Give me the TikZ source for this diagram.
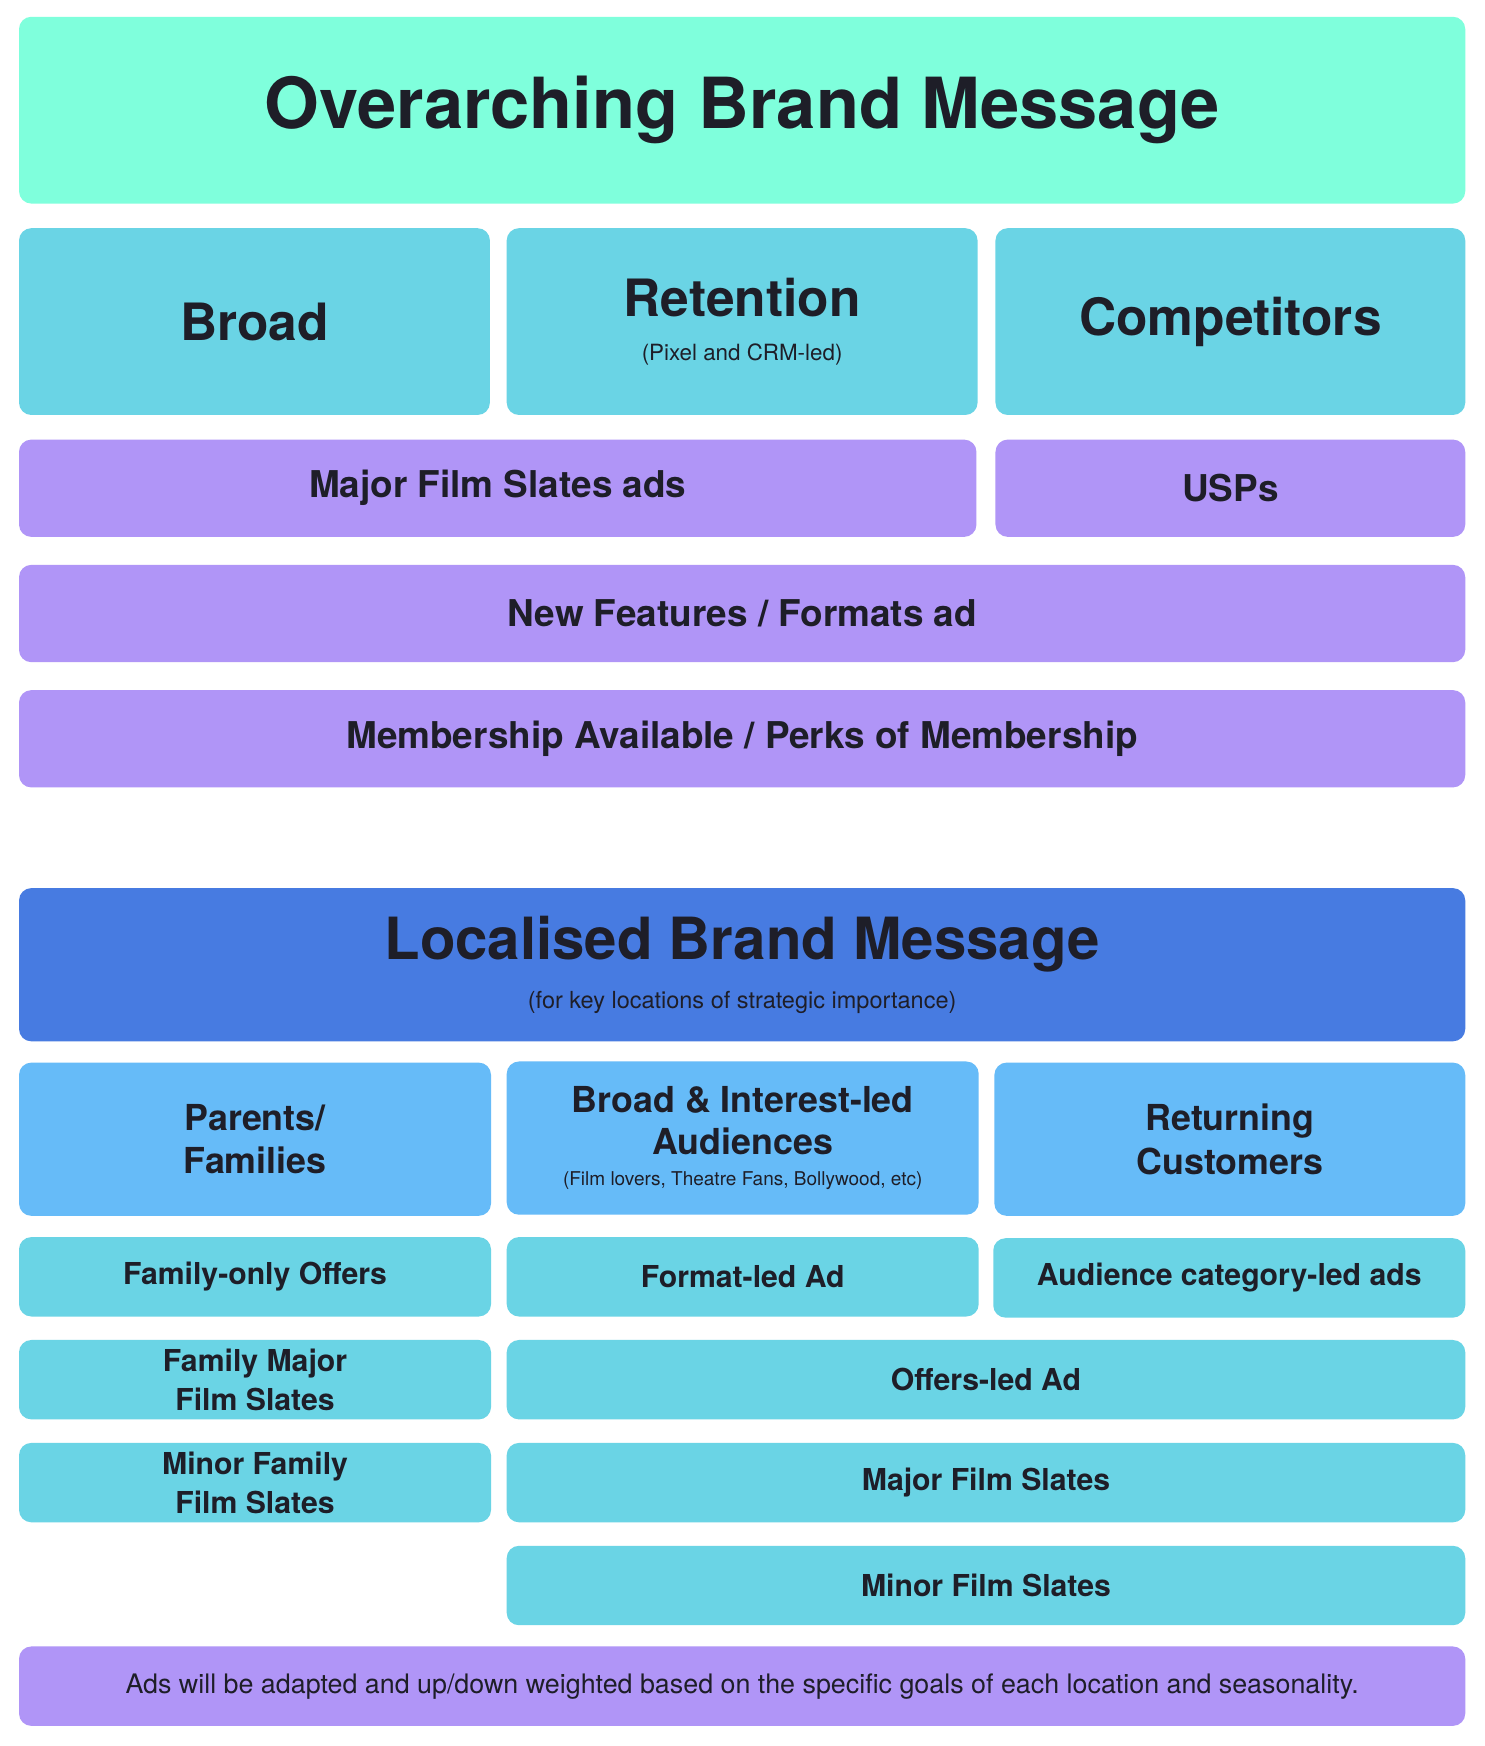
\documentclass[tikz,border=0pt]{standalone}
\usepackage{fontspec}
\setmainfont{TeX Gyre Heros}
\definecolor{cMint}{RGB}{127,255,220}
\definecolor{cTeal}{RGB}{106,212,229}
\definecolor{cPurp}{RGB}{176,149,247}
\definecolor{cBlue}{RGB}{71,123,225}
\definecolor{cSky}{RGB}{102,187,248}
\definecolor{cTxt}{RGB}{30,30,40}
\begin{document}
\begin{tikzpicture}[x=1pt,y=-1pt]
\useasboundingbox[fill=white] (0,0) rectangle (1327,1561);
\newcommand\bxx[7]{\fill[#5,rounded corners=11pt] (#1,#2) rectangle (#3,#4);
  \node[text=cTxt,align=center,inner sep=0pt,font={#6}] (n#1x#2) at ({(#1+#3)/2},{(#2+#4)/2}) {#7};}
\newcommand\subf[1]{\fontsize{#1}{#1}\mdseries\selectfont}
\bxx{17}{15}{1310}{182}{cMint}{\bfseries\fontsize{63}{70}\selectfont}{Overarching Brand Message}
\bxx{17}{204}{438}{371}{cTeal}{\bfseries\fontsize{46}{50}\selectfont}{Broad}
\bxx{453}{204}{874}{371}{cTeal}{\bfseries\fontsize{46}{40}\selectfont}{Retention\\{\subf{20}(Pixel and CRM-led)}}
\bxx{890}{204}{1310}{371}{cTeal}{\bfseries\fontsize{46}{50}\selectfont}{Competitors}
\bxx{17}{393}{873}{480}{cPurp}{\bfseries\fontsize{33}{38}\selectfont}{Major Film Slates ads}
\bxx{890}{393}{1310}{480}{cPurp}{\bfseries\fontsize{33}{38}\selectfont}{USPs}
\bxx{17}{505}{1310}{592}{cPurp}{\bfseries\fontsize{33}{38}\selectfont}{New Features / Formats ad}
\bxx{17}{617}{1310}{704}{cPurp}{\bfseries\fontsize{33}{38}\selectfont}{Membership Available / Perks of Membership}
\bxx{17}{794}{1310}{931}{cBlue}{\bfseries\fontsize{52}{44}\selectfont}{Localised Brand Message\\{\subf{21}(for key locations of strategic importance)}}
\bxx{17}{950}{439}{1087}{cSky}{\bfseries\fontsize{32}{39}\selectfont}{Parents/\\Families}
\bxx{453}{949}{875}{1086}{cSky}{\bfseries\fontsize{32}{38}\selectfont}{Broad \& Interest-led\\Audiences\\[-10pt]{\subf{17}(Film lovers, Theatre Fans, Bollywood, etc)}}
\bxx{889}{950}{1310}{1087}{cSky}{\bfseries\fontsize{32}{39}\selectfont}{Returning\\Customers}
\bxx{17}{1106}{439}{1177}{cTeal}{\bfseries\fontsize{27}{35}\selectfont}{Family-only Offers}
\bxx{453}{1106}{875}{1177}{cTeal}{\bfseries\fontsize{27}{35}\selectfont}{Format-led Ad}
\bxx{888}{1107}{1310}{1178}{cTeal}{\bfseries\fontsize{27}{35}\selectfont}{Audience category-led ads}
\bxx{17}{1198}{439}{1269}{cTeal}{\bfseries\fontsize{27}{35}\selectfont}{Family Major\\Film Slates}
\bxx{453}{1198}{1310}{1269}{cTeal}{\bfseries\fontsize{27}{35}\selectfont}{Offers-led Ad}
\bxx{17}{1290}{439}{1361}{cTeal}{\bfseries\fontsize{27}{35}\selectfont}{Minor Family\\Film Slates}
\bxx{453}{1290}{1310}{1361}{cTeal}{\bfseries\fontsize{27}{35}\selectfont}{Major Film Slates}
\bxx{453}{1382}{1310}{1453}{cTeal}{\bfseries\fontsize{27}{35}\selectfont}{Minor Film Slates}
\bxx{17}{1472}{1310}{1543}{cPurp}{\fontsize{24}{30}\selectfont}{Ads will be adapted and up/down weighted based on the specific goals of each location and seasonality.}
\end{tikzpicture}
\end{document}
